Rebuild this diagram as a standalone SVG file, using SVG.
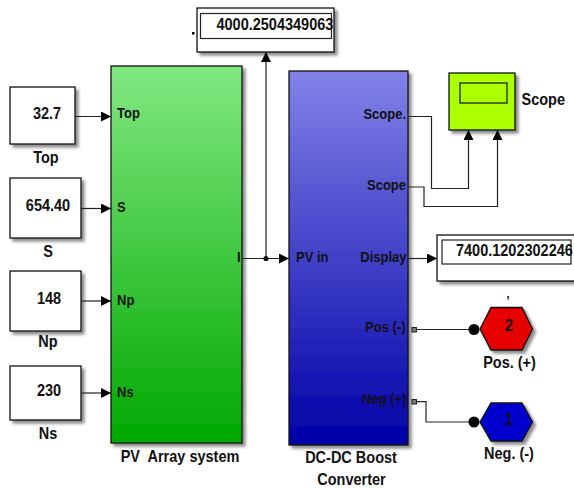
<svg xmlns="http://www.w3.org/2000/svg" width="574" height="488" viewBox="0 0 574 488">
<defs>
<linearGradient id="gGreen" x1="0" y1="0" x2="0" y2="1">
<stop offset="0" stop-color="#82e882"/>
<stop offset="1" stop-color="#00a800"/>
</linearGradient>
<linearGradient id="gBlue" x1="0" y1="0" x2="0" y2="1">
<stop offset="0" stop-color="#8282e8"/>
<stop offset="1" stop-color="#0000a8"/>
</linearGradient>
<filter id="sh" x="-20%" y="-20%" width="150%" height="150%">
<feDropShadow dx="3" dy="3" stdDeviation="1.8" flood-color="#000" flood-opacity="0.45"/>
</filter>
<marker id="arr" markerUnits="userSpaceOnUse" markerWidth="10" markerHeight="10" refX="10" refY="5" orient="auto">
<path d="M0,0 L10,5 L0,10 z" fill="#000"/>
</marker>
</defs>
<style>
text{font-family:"Liberation Sans",Arial,sans-serif;font-weight:bold;fill:#111;}
.lbl{font-size:14.5px;}
.port{font-size:13px;}
.num{font-size:14.5px;}
.blk{stroke:#111;stroke-width:1.3;filter:url(#sh);}
.wire{fill:none;stroke:#222;stroke-width:1.2;}
</style>

<g id="const-top">
<rect class="blk" x="10" y="87" width="65" height="57" fill="#fff"/>
<text class="num" x="47" y="119" text-anchor="middle" transform="matrix(1,0,0,1.15,0,-17.85)">32.7</text>
<text class="lbl" x="46" y="163" text-anchor="middle" transform="matrix(1,0,0,1.15,0,-24.45)">Top</text>
</g>
<g id="const-s">
<rect class="blk" x="10" y="178" width="71" height="60" fill="#fff"/>
<text class="num" x="48" y="211.5" text-anchor="middle" transform="matrix(1,0,0,1.15,0,-31.725)">654.40</text>
<text class="lbl" x="48" y="257" text-anchor="middle" transform="matrix(1,0,0,1.15,0,-38.55)">S</text>
</g>
<g id="const-np">
<rect class="blk" x="10" y="271" width="71" height="60" fill="#fff"/>
<text class="num" x="49" y="304" text-anchor="middle" transform="matrix(1,0,0,1.15,0,-45.6)">148</text>
<text class="lbl" x="48" y="347" text-anchor="middle" transform="matrix(1,0,0,1.15,0,-52.05)">Np</text>
</g>
<g id="const-ns">
<rect class="blk" x="10" y="366" width="71" height="54" fill="#fff"/>
<text class="num" x="49" y="396.5" text-anchor="middle" transform="matrix(1,0,0,1.15,0,-59.475)">230</text>
<text class="lbl" x="48" y="439" text-anchor="middle" transform="matrix(1,0,0,1.15,0,-65.85)">Ns</text>
</g>

<g id="pv-array">
<rect class="blk" x="111" y="66" width="131" height="377" fill="url(#gGreen)"/>
<text class="port" x="117" y="118.5" transform="matrix(1,0,0,1.15,0,-17.775)">Top</text>
<text class="port" x="117" y="212.5" transform="matrix(1,0,0,1.15,0,-31.875)">S</text>
<text class="port" x="117" y="305" transform="matrix(1,0,0,1.15,0,-45.75)">Np</text>
<text class="port" x="117" y="397.5" transform="matrix(1,0,0,1.15,0,-59.625)">Ns</text>
<text class="port" x="240.5" y="262" text-anchor="end" transform="matrix(1,0,0,1.15,0,-39.3)">I</text>
<text class="lbl" x="180" y="462" text-anchor="middle" xml:space="preserve" transform="matrix(1,0,0,1.15,0,-69.3)">PV  Array system</text>
</g>

<g id="boost">
<rect class="blk" x="289" y="71" width="119" height="374" fill="url(#gBlue)"/>
<text class="port" x="296" y="262" transform="matrix(1,0,0,1.15,0,-39.3)">PV in</text>
<text class="port" x="406" y="119.5" text-anchor="end" transform="matrix(1,0,0,1.15,0,-17.925)">Scope.</text>
<text class="port" x="406" y="190.5" text-anchor="end" transform="matrix(1,0,0,1.15,0,-28.575)">Scope</text>
<text class="port" x="406.5" y="262" text-anchor="end" transform="matrix(1,0,0,1.15,0,-39.3)">Display</text>
<text class="port" x="405.5" y="332" text-anchor="end" transform="matrix(1,0,0,1.15,0,-49.8)">Pos (-)</text>
<text class="port" x="406.5" y="404" text-anchor="end" transform="matrix(1,0,0,1.15,0,-60.6)">Neg (+)</text>
<rect x="412" y="327.5" width="4.5" height="4.5" fill="#777" stroke="#222" stroke-width="1"/>
<rect x="412" y="399.5" width="4.5" height="4.5" fill="#777" stroke="#222" stroke-width="1"/>
<text class="lbl" x="351" y="463.3" text-anchor="middle" transform="matrix(1,0,0,1.15,0,-69.495)">DC-DC Boost</text>
<text class="lbl" x="351.5" y="485" text-anchor="middle" transform="matrix(1,0,0,1.15,0,-72.75)">Converter</text>
</g>

<g id="display1">
<rect class="blk" x="197" y="8" width="137" height="44" fill="#fff"/>
<rect x="200.5" y="13.5" width="131" height="25" fill="none" stroke="#222" stroke-width="1.2"/>
<text class="num" x="216.5" y="30" transform="matrix(1,0,0,1.15,0,-4.5)">4000.2504349063</text>
<rect x="192" y="32" width="2.5" height="2.5" fill="#000"/>
</g>

<g id="display2">
<rect class="blk" x="437" y="235" width="145" height="46" fill="#fff"/>
<rect x="442" y="240" width="129" height="24" fill="none" stroke="#222" stroke-width="1.2"/>
<text class="num" x="456" y="256.5" transform="matrix(1,0,0,1.15,0,-38.475)">7400.1202302246</text>
</g>

<g id="scope">
<rect class="blk" x="449" y="73" width="66" height="57" fill="#aaff00"/>
<rect x="460" y="83" width="47" height="20" fill="#aaff00" stroke="#111" stroke-width="1.2"/>
<text class="lbl" x="521.5" y="105" transform="matrix(1,0,0,1.15,0,-15.75)">Scope</text>
</g>

<g id="pos-port">
<polygon class="blk" points="480,329 491,307.5 522,307.5 532.5,329 522,350 491,350" fill="#e60000"/>
<text class="lbl" x="509" y="331.5" text-anchor="middle" style="font-size:15px" transform="matrix(1,0,0,1.15,0,-49.725)">2</text>
<text class="lbl" x="509.5" y="368.5" text-anchor="middle" transform="matrix(1,0,0,1.15,0,-55.275)">Pos. (+)</text>
<text class="lbl" x="508" y="298" text-anchor="middle" style="font-size:11px" transform="matrix(1,0,0,1.15,0,-44.7)">,</text>
</g>

<g id="neg-port">
<polygon class="blk" points="480,422 491,403 522,403 532.5,422 522,441 491,441" fill="#0000cc"/>
<text class="lbl" x="509" y="425" text-anchor="middle" style="font-size:15px" transform="matrix(1,0,0,1.15,0,-63.75)">1</text>
<text class="lbl" x="509" y="459.5" text-anchor="middle" transform="matrix(1,0,0,1.15,0,-68.925)">Neg. (-)</text>
</g>

<g id="connectors">
<path class="wire" d="M75,116.5 H111" marker-end="url(#arr)"/>
<path class="wire" d="M81,208.5 H111" marker-end="url(#arr)"/>
<path class="wire" d="M81,301 H111" marker-end="url(#arr)"/>
<path class="wire" d="M81,393 H111" marker-end="url(#arr)"/>
<path class="wire" d="M242,258.5 H289" marker-end="url(#arr)"/>
<path class="wire" d="M266,258.5 V52" marker-end="url(#arr)"/>
<circle cx="266" cy="258.5" r="2.6" fill="#111"/>
<path class="wire" d="M408,116.5 H431.5 V188.5 H468.5 V130" marker-end="url(#arr)"/>
<path class="wire" d="M408,187 H424 V206.5 H497.5 V130" marker-end="url(#arr)"/>
<path class="wire" d="M408,258.5 H437" marker-end="url(#arr)"/>
<path class="wire" d="M416.5,329.5 H474"/>
<circle cx="474" cy="329.5" r="5.5" fill="#000"/>
<path class="wire" d="M416.5,401.7 H426 V422 H474"/>
<circle cx="474" cy="422" r="5.5" fill="#000"/>
</g>
</svg>
